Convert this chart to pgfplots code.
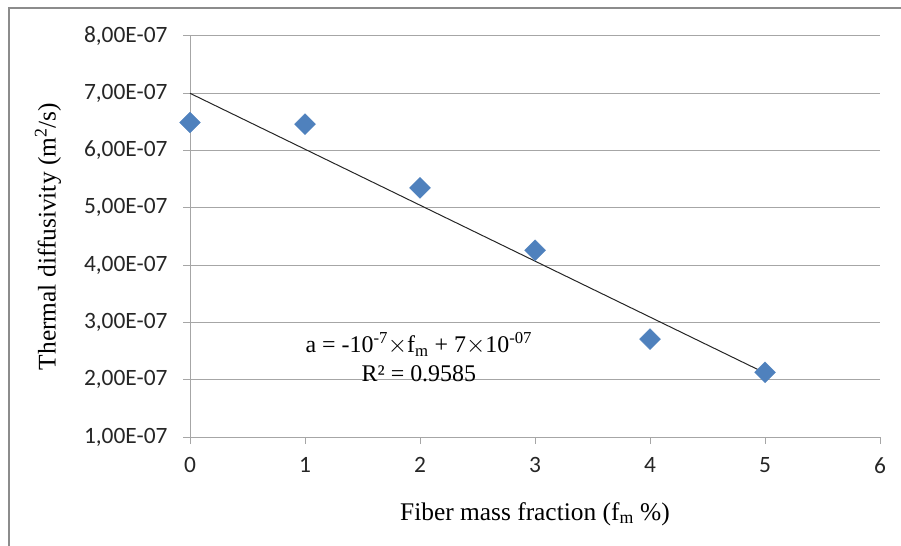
\documentclass[border=0pt]{standalone}
\usepackage{pgfplots}
\pgfplotsset{compat=1.18}
\usepackage{fontspec}
\setmainfont{Liberation Serif}
\newfontfamily\tickfont{Carlito}
\definecolor{gridgray}{HTML}{A6A6A6}
\definecolor{frameg}{HTML}{8C8C8C}
\definecolor{mblue}{HTML}{4F81BD}
\begin{document}
\begin{tikzpicture}[x=1bp,y=1bp]
\useasboundingbox (0,0) rectangle (901,-546);
\draw[frameg, line width=2bp] (9,-546) -- (9,-8) -- (901,-8);
\begin{axis}[
  at={(190bp,-36bp)}, anchor=north west,
  scale only axis, width=690bp, height=401bp,
  xmin=0, xmax=6, ymin=1e-7, ymax=8e-7,
  axis lines*=left,
  axis line style={gridgray, line width=1bp, -},
  xtick={0,1,2,3,4,5,6},
  ytick={1e-7,2e-7,3e-7,4e-7,5e-7,6e-7,7e-7,8e-7},
  yticklabels={{1,00E-07},{2,00E-07},{3,00E-07},{4,00E-07},{5,00E-07},{6,00E-07},{7,00E-07},{8,00E-07}},
  xticklabels={0,1,2,3,4,5,6},
  scaled y ticks=false,
  ymajorgrids, grid style={gridgray, line width=1bp},
  tick align=outside, major tick length=7bp,
  tick style={gridgray, line width=1bp},
  ticklabel style={font=\fontsize{23.5}{26}\tickfont, text=black!85},
  yticklabel style={xshift=-12bp},
  xticklabel style={yshift=-10bp},
  xlabel={Fiber mass fraction (f\textsubscript{m} \%)},
  ylabel={Thermal diffusivity (m\textsuperscript{2}/s)},
  label style={font=\fontsize{25.5}{28}\selectfont},
  xlabel style={yshift=-22bp},
  ylabel style={yshift=16bp},
  clip=false,
]
\addplot[black!85, line width=1bp] coordinates {(0,7.0e-7) (5,2.117e-7)};
\addplot[only marks, mark=square*, mark size=7.4bp, mark options={rotate=45, fill=mblue, draw=mblue}]
  coordinates {(0,6.49e-7) (1,6.46e-7) (2,5.35e-7) (3,4.26e-7) (4,2.71e-7) (5,2.13e-7)};
\node[font=\fontsize{24}{29}\selectfont, align=center, anchor=center] at (axis cs:1.99,2.39e-7)
  {a = -10\textsuperscript{-7}$\times$f\textsubscript{m} + 7$\times$10\textsuperscript{-07}\\R² = 0.9585};
\end{axis}
\end{tikzpicture}
\end{document}
